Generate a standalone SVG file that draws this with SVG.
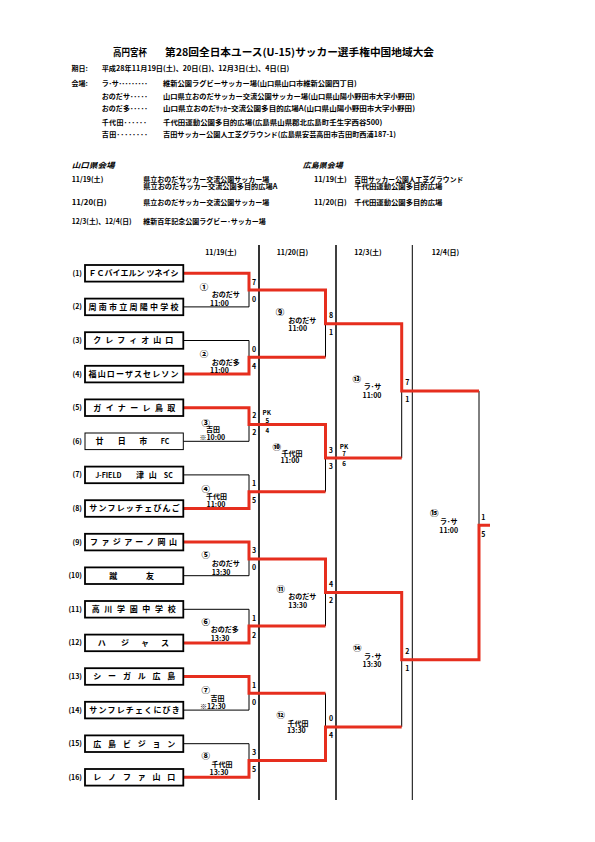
<svg xmlns="http://www.w3.org/2000/svg" width="595" height="842" viewBox="0 0 595 842">
<style>
text{font-family:"Noto Sans CJK JP","Noto Sans",sans-serif;font-weight:bold;fill:#000}
.f7{font-size:7px}
.f65{font-size:6.2px}
.cn{font-size:8.5px;text-anchor:middle;font-weight:900}
.tm{font-size:8px}
.ttl{font-size:10px}
.it{font-style:italic;font-size:7.5px}
.c{text-anchor:middle}
.e{text-anchor:end}
.box{fill:#fff;stroke:#000;stroke-width:1.8}
.thin{stroke-width:1}
.red{fill:none;stroke:#e62e1e;stroke-width:3;stroke-linejoin:miter}
.blk{fill:none;stroke:#000;stroke-width:1}
.col{stroke:#000;fill:none}
</style>
<rect width="595" height="842" fill="#fff"/>

<g id="header">
<text class="ttl" x="113" y="55.5" textLength="34" lengthAdjust="spacingAndGlyphs">高円宮杯</text>
<text class="ttl" x="165" y="55.5" textLength="269" lengthAdjust="spacingAndGlyphs">第28回全日本ユース(U-15)サッカー選手権中国地域大会</text>
<text class="f7" x="71.5" y="71">期日:</text>
<text class="f7" x="101.7" y="71" textLength="187.6" lengthAdjust="spacingAndGlyphs">平成28年11月19日(土)、20日(日)、12月3日(土)、4日(日)</text>
<text class="f7" x="71.5" y="86">会場:</text>
<text class="f7" x="101.7" y="86" textLength="46" lengthAdjust="spacing">ラ･サ･････････</text>
<text class="f7" x="101.7" y="98.6" textLength="46" lengthAdjust="spacing">おのだサ･････</text>
<text class="f7" x="101.7" y="111" textLength="46" lengthAdjust="spacing">おのだ多･････</text>
<text class="f7" x="101.7" y="124.6" textLength="45" lengthAdjust="spacing">千代田･･････</text>
<text class="f7" x="101.7" y="137" textLength="46" lengthAdjust="spacing">吉田････････</text>
<text class="f7" x="163" y="86" textLength="193.7" lengthAdjust="spacingAndGlyphs">維新公園ラグビーサッカー場(山口県山口市維新公園四丁目)</text>
<text class="f7" x="163" y="98.6" textLength="252" lengthAdjust="spacingAndGlyphs">山口県立おのだサッカー交流公園サッカー場(山口県山陽小野田市大字小野田)</text>
<text class="f7" x="163" y="111" textLength="252" lengthAdjust="spacingAndGlyphs">山口県立おのだｻｯｶｰ交流公園多目的広場A(山口県山陽小野田市大字小野田)</text>
<text class="f7" x="163" y="124.6" textLength="219.3" lengthAdjust="spacingAndGlyphs">千代田運動公園多目的広場(広島県山県郡北広島町壬生字西谷500)</text>
<text class="f7" x="163" y="137" textLength="233" lengthAdjust="spacingAndGlyphs">吉田サッカー公園人工芝グラウンド(広島県安芸高田市吉田町西浦187-1)</text>

<text class="it" x="71.7" y="167.8" textLength="43" lengthAdjust="spacingAndGlyphs">山口県会場</text>
<text class="it" x="302.7" y="167.8" textLength="40" lengthAdjust="spacingAndGlyphs">広島県会場</text>
<text class="f7" x="71.7" y="182" textLength="31.6" lengthAdjust="spacingAndGlyphs">11/19(土)</text>
<text class="f7" x="143.3" y="182" textLength="126" lengthAdjust="spacingAndGlyphs">県立おのだサッカー交流公園サッカー場</text>
<text class="f7" x="143.3" y="189.4" textLength="134" lengthAdjust="spacingAndGlyphs">県立おのだサッカー交流公園多目的広場A</text>
<text class="f7" x="314" y="182" textLength="32.7" lengthAdjust="spacingAndGlyphs">11/19(土)</text>
<text class="f7" x="354.3" y="182" textLength="109" lengthAdjust="spacingAndGlyphs">吉田サッカー公園人工芝グラウンド</text>
<text class="f7" x="354.3" y="189.4" textLength="88" lengthAdjust="spacingAndGlyphs">千代田運動公園多目的広場</text>
<text class="f7" x="71.7" y="205" textLength="35" lengthAdjust="spacingAndGlyphs">11/20(日)</text>
<text class="f7" x="143.3" y="205" textLength="126" lengthAdjust="spacingAndGlyphs">県立おのだサッカー交流公園サッカー場</text>
<text class="f7" x="314" y="205" textLength="32.7" lengthAdjust="spacingAndGlyphs">11/20(日)</text>
<text class="f7" x="354.3" y="205" textLength="88" lengthAdjust="spacingAndGlyphs">千代田運動公園多目的広場</text>
<text class="f7" x="71.7" y="224.4" textLength="60" lengthAdjust="spacingAndGlyphs">12/3(土)、12/4(日)</text>
<text class="f7" x="143.3" y="224.4" textLength="122.4" lengthAdjust="spacingAndGlyphs">維新百年記念公園ラグビー･サッカー場</text>

<text class="f7 c" x="221" y="254.7">11/19(土)</text>
<text class="f7 c" x="292.5" y="254.7">11/20(日)</text>
<text class="f7 c" x="368" y="254.7">12/3(土)</text>
<text class="f7 c" x="445.5" y="254.7">12/4(日)</text>
</g>

<g id="columns">
<line class="col" x1="259" y1="245" x2="259" y2="800" stroke-width="1.6"/>
<line class="col" x1="336" y1="245" x2="336" y2="800" stroke-width="1.5"/>
<line class="col" x1="412.3" y1="245" x2="412.3" y2="800" stroke-width="1"/>
</g>

<g id="connectors">
<path class="blk" d="M183.3,306.9H249V290.1"/>
<path class="blk" d="M183.3,340.5H249V357.3"/>
<path class="blk" d="M183.3,441.3H249V424.5"/>
<path class="blk" d="M183.3,474.9H249V491.7"/>
<path class="blk" d="M183.3,575.7H249V558.9"/>
<path class="blk" d="M183.3,609.3H249V626.1"/>
<path class="blk" d="M183.3,710.1H249V693.3"/>
<path class="blk" d="M183.3,743.7H249V760.5"/>
<path class="blk" d="M325.5,357.3V323.7"/>
<path class="blk" d="M325.5,491.7V458.1"/>
<path class="blk" d="M325.5,626.1V592.5"/>
<path class="blk" d="M325.5,693.3V726.9"/>
<path class="blk" stroke-width="1.5" d="M401.7,458.1V390.9"/>
<path class="blk" stroke-width="1.5" d="M401.7,726.9V659.7"/>
<path class="blk" stroke-width="2" d="M479,390.9V525.3"/>
<path class="red" d="M183.3,273.3H249V290.1H325.5V323.7H401.7V390.9H479"/>
<path class="red" d="M183.3,374.1H249V357.3H325.5"/>
<path class="red" d="M183.3,407.7H249V424.5H325.5V458.1H401.7"/>
<path class="red" d="M183.3,508.5H249V491.7H325.5"/>
<path class="red" d="M183.3,542.1H249V558.9H325.5V592.5H401.7V659.7H479V525.3H490"/>
<path class="red" d="M183.3,642.9H249V626.1H325.5"/>
<path class="red" d="M183.3,676.5H249V693.3H325.5"/>
<path class="red" d="M183.3,777.3H249V760.5H325.5V726.9H401.7"/>
</g>

<g id="team1"><text class="f7 e" x="82" y="275.8">(1)</text><rect class="box" x="85" y="265" width="98.3" height="16.6"/><text class="tm" x="88.5" y="276.2" textLength="90" lengthAdjust="spacing">ＦＣバイエルン ツネイシ</text></g>
<g id="team2"><text class="f7 e" x="82" y="309.4">(2)</text><rect class="box" x="85" y="298.6" width="98.3" height="16.6"/><text class="tm" x="88.5" y="309.8" textLength="90" lengthAdjust="spacing">周南市立周陽中学校</text></g>
<g id="team3"><text class="f7 e" x="82" y="343">(3)</text><rect class="box" x="85" y="332.2" width="98.3" height="16.6"/><text class="tm" x="93.3" y="343.4" textLength="80" lengthAdjust="spacing">クレフィオ山口</text></g>
<g id="team4"><text class="f7 e" x="82" y="376.6">(4)</text><rect class="box" x="85" y="365.8" width="98.3" height="16.6"/><text class="tm" x="88.5" y="377" textLength="90" lengthAdjust="spacing">福山ローザスセレソン</text></g>
<g id="team5"><text class="f7 e" x="82" y="410.2">(5)</text><rect class="box" x="85" y="399.4" width="98.3" height="16.6"/><text class="tm" x="93.3" y="410.6" textLength="82" lengthAdjust="spacing">ガイナーレ鳥取</text></g>
<g id="team6"><text class="f7 e" x="82" y="443.8">(6)</text><rect class="box thin" x="85" y="433" width="98.3" height="16.6"/><text class="tm c" y="444.2"><tspan x="99.5">廿</tspan><tspan x="121.7">日</tspan><tspan x="143.3">市</tspan><tspan x="165" font-size="7">FC</tspan></text></g>
<g id="team7"><text class="f7 e" x="82" y="477.4">(7)</text><rect class="box" x="85" y="466.6" width="98.3" height="16.6"/><text class="tm c" y="477.8"><tspan x="108.3" font-size="7">J-FIELD</tspan><tspan x="140">津</tspan><tspan x="152.7">山</tspan><tspan x="168.3" font-size="7">SC</tspan></text></g>
<g id="team8"><text class="f7 e" x="82" y="511">(8)</text><rect class="box" x="85" y="500.2" width="98.3" height="16.6"/><text class="tm" x="89.3" y="511.4" textLength="90.5" lengthAdjust="spacing">サンフレッチェびんご</text></g>
<g id="team9"><text class="f7 e" x="82" y="544.6">(9)</text><rect class="box" x="85" y="533.8" width="98.3" height="16.6"/><text class="tm" x="90" y="545" textLength="87" lengthAdjust="spacing">ファジアーノ岡山</text></g>
<g id="team10"><text class="f7 e" x="82" y="578.2">(10)</text><rect class="box" x="85" y="567.4" width="98.3" height="16.6"/><text class="tm c" y="578.6"><tspan x="113.3">蹴</tspan><tspan x="150">友</tspan></text></g>
<g id="team11"><text class="f7 e" x="82" y="611.8">(11)</text><rect class="box" x="85" y="601" width="98.3" height="16.6"/><text class="tm" x="91.7" y="612.2" textLength="84" lengthAdjust="spacing">高川学園中学校</text></g>
<g id="team12"><text class="f7 e" x="82" y="645.4">(12)</text><rect class="box" x="85" y="634.6" width="98.3" height="16.6"/><text class="tm c" y="645.8"><tspan x="101.7">ハ</tspan><tspan x="125">ジ</tspan><tspan x="145">ャ</tspan><tspan x="165">ス</tspan></text></g>
<g id="team13"><text class="f7 e" x="82" y="679">(13)</text><rect class="box" x="85" y="668.2" width="98.3" height="16.6"/><text class="tm" x="93.3" y="679.4" textLength="82" lengthAdjust="spacing">シーガル広島</text></g>
<g id="team14"><text class="f7 e" x="82" y="712.6">(14)</text><rect class="box" x="85" y="701.8" width="98.3" height="16.6"/><text class="tm" x="89.3" y="713" textLength="90.5" lengthAdjust="spacing">サンフレチェくにびき</text></g>
<g id="team15"><text class="f7 e" x="82" y="746.2">(15)</text><rect class="box" x="85" y="735.4" width="98.3" height="16.6"/><text class="tm" x="93.3" y="746.6" textLength="82" lengthAdjust="spacing">広島ビジョン</text></g>
<g id="team16"><text class="f7 e" x="82" y="779.8">(16)</text><rect class="box" x="85" y="769" width="98.3" height="16.6"/><text class="tm" x="93.3" y="780.2" textLength="82" lengthAdjust="spacing">レノファ山口</text></g>

<g id="match1"><text class="cn" x="204" y="289.7">①</text><text class="f7" x="211.7" y="296.8">おのだサ</text><text class="f7" x="210" y="305.8">11:00</text><text class="f7 c" x="254" y="284.6">7</text><text class="f7 c" x="254" y="301.6">0</text></g>
<g id="match2"><text class="cn" x="204" y="357.3">②</text><text class="f7" x="211.7" y="365.2">おのだ多</text><text class="f7" x="210" y="373.2">11:00</text><text class="f7 c" x="254" y="351.8">0</text><text class="f7 c" x="254" y="368.8">4</text></g>
<g id="match3"><text class="cn" x="205.7" y="426.3">③</text><text class="f7 c" x="213" y="431.8">吉田</text><text class="f7 c" x="212.3" y="440.2">※10:00</text><text class="f7 c" x="254.3" y="417.5">2</text><text class="f7 c" x="254.3" y="435.2">2</text><text class="f65 c" x="266.7" y="415">PK</text><text class="f65 c" x="267.3" y="423.2">5</text><text class="f65 c" x="267.3" y="432.5">4</text></g>
<g id="match4"><text class="cn" x="205.7" y="492.3">④</text><text class="f7 c" x="216.5" y="499.2">千代田</text><text class="f7 c" x="216" y="506.5">11:00</text><text class="f7 c" x="254" y="486.2">1</text><text class="f7 c" x="254" y="503.2">5</text></g>
<g id="match5"><text class="cn" x="205.7" y="558">⑤</text><text class="f7" x="211.7" y="565.8">おのだサ</text><text class="f7" x="211.7" y="575.2">13:30</text><text class="f7 c" x="254" y="553.4">3</text><text class="f7 c" x="254" y="570.4">0</text></g>
<g id="match6"><text class="cn" x="205.7" y="624.7">⑥</text><text class="f7" x="210.7" y="631.8">おのだ多</text><text class="f7" x="210.7" y="640.8">13:30</text><text class="f7 c" x="254" y="620.6">1</text><text class="f7 c" x="254" y="637.6">2</text></g>
<g id="match7"><text class="cn" x="205.7" y="693">⑦</text><text class="f7 c" x="217.5" y="700.8">吉田</text><text class="f7 c" x="212.8" y="709.2">※12:30</text><text class="f7 c" x="254" y="687.8">1</text><text class="f7 c" x="254" y="704.8">0</text></g>
<g id="match8"><text class="cn" x="205.7" y="759">⑧</text><text class="f7 c" x="222" y="766.8">千代田</text><text class="f7 c" x="219" y="775.2">13:30</text><text class="f7 c" x="254" y="755">3</text><text class="f7 c" x="254" y="772">5</text></g>
<g id="match9"><text class="cn" x="280" y="314.7">⑨</text><text class="f7" x="288.3" y="322.5">おのだサ</text><text class="f7" x="288.3" y="330.8">11:00</text><text class="f7 c" x="331" y="318.2">8</text><text class="f7 c" x="331" y="334.5">1</text></g>
<g id="match10"><text class="cn" x="276.7" y="449.5">⑩</text><text class="f7 c" x="292" y="456">千代田</text><text class="f7 c" x="290" y="463">11:00</text><text class="f7 c" x="330.7" y="453.2">3</text><text class="f7 c" x="330.7" y="469">3</text><text class="f65 c" x="344" y="449">PK</text><text class="f65 c" x="344" y="455.6">7</text><text class="f65 c" x="344" y="466">6</text></g>
<g id="match11"><text class="cn" x="280.7" y="592.3">⑪</text><text class="f7" x="288.3" y="599.2">おのだサ</text><text class="f7" x="288.3" y="607.5">13:30</text><text class="f7 c" x="331" y="587">4</text><text class="f7 c" x="331" y="603.3">2</text></g>
<g id="match12"><text class="cn" x="280.7" y="718">⑫</text><text class="f7 c" x="298" y="725.8">千代田</text><text class="f7 c" x="296.3" y="733.2">13:30</text><text class="f7 c" x="331" y="721.4">0</text><text class="f7 c" x="331" y="737.7">4</text></g>
<g id="match13"><text class="cn" x="356.7" y="382.3">⑬</text><text class="f7 c" x="372.5" y="389.2">ラ･サ</text><text class="f7 c" x="372" y="397.5">11:00</text><text class="f7 c" x="407.3" y="385.4">7</text><text class="f7 c" x="407.3" y="401.7">1</text></g>
<g id="match14"><text class="cn" x="357.3" y="651.3">⑭</text><text class="f7 c" x="372.8" y="658.5">ラ･サ</text><text class="f7 c" x="372" y="666.5">13:30</text><text class="f7 c" x="407.3" y="654.2">2</text><text class="f7 c" x="407.3" y="670.5">1</text></g>
<g id="match15"><text class="cn" x="434.3" y="515.7">⑮</text><text class="f7 c" x="448.7" y="523.5">ラ･サ</text><text class="f7 c" x="448.7" y="532.5">11:00</text><text class="f7 c" x="483.3" y="519.8">1</text><text class="f7 c" x="483.3" y="536.5">5</text></g>
</svg>
